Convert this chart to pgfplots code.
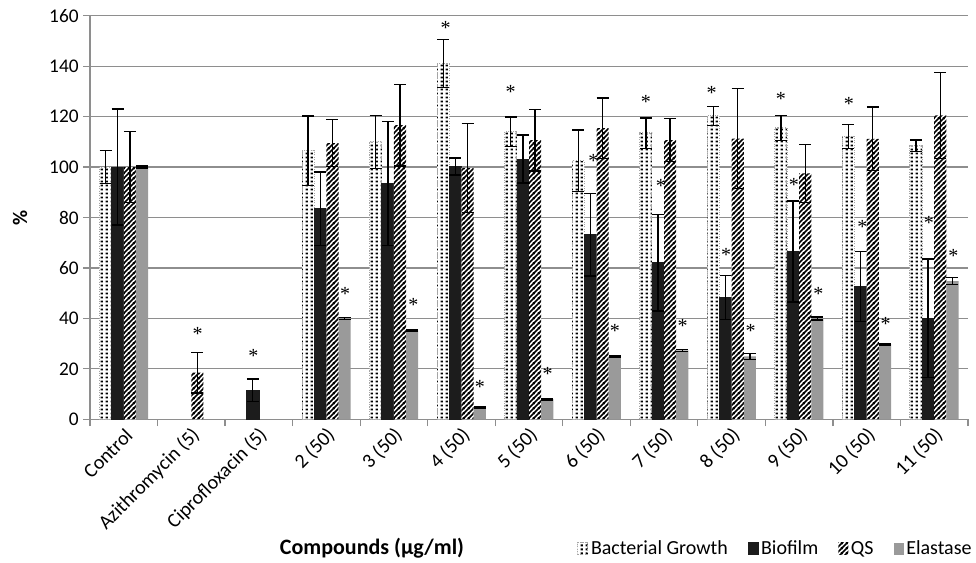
\documentclass[border=0pt]{standalone}
\usepackage{fontspec}
\setmainfont{Carlito}
\newfontfamily\starfont{Liberation Serif}
\usepackage{pgfplots}
\usepackage{pgfplotstable}
\pgfplotsset{compat=1.18}
\usetikzlibrary{patterns.meta}

\definecolor{biofilm}{HTML}{1C1C1C}
\definecolor{elastase}{HTML}{9A9A9A}
\definecolor{gridgray}{HTML}{8E8E8E}

\tikzdeclarepattern{name=bgdots, type=uncolored,
  bounding box={(0pt,0pt) and (3.4pt,3pt)},
  tile size={(3.4pt,3pt)},
  code={\fill (0.6pt,0.6pt) rectangle (2.4pt,2.3pt);}}
\tikzdeclarepattern{name=qsstripes, type=uncolored,
  bounding box={(0pt,0pt) and (3.9pt,3.9pt)},
  tile size={(3.9pt,3.9pt)},
  code={\draw[line width=1.35pt] (-0.5pt,-0.5pt) -- (4.4pt,4.4pt);
        \draw[line width=1.35pt] (-0.5pt,3.4pt) -- (0.5pt,4.4pt);
        \draw[line width=1.35pt] (3.4pt,-0.5pt) -- (4.4pt,0.5pt);}}

\pgfplotsset{
  sqlegend/.style={legend image code/.code={\path[##1] (0pt,-4.5pt) rectangle (7.5pt,4.5pt);}},
}

% x = category index; err = half-length of the error bar
\pgfplotstableread{
x  bg    bgerr bio   bioerr qs    qserr el   elerr
0  100   6.5   100   23     100   14    100  0.4
1  nan   nan   nan   nan    18.5  8     nan  nan
2  nan   nan   11.5  4.5    nan   nan   nan  nan
3  106.5 13.8  83.5  14.5   109.5 9.4   40   0.3
4  110   10.5  93.5  24.5   116.6 16.2  35.3 0.3
5  141   9.5   100.2 3.4    99.7  17.6  4.6  0.3
6  114   5.8   103.2 9.5    110.7 12.2  8    0.3
7  102.5 12.2  73.2  16.4   115.4 12    25   0.3
8  113.5 6     62.1  19.2   110.7 8.6   27.3 0.3
9  120.3 3.8   48.3  8.7    111.3 19.9  25   1.2
10 115.5 5     66.5  20     97.5  11.5  40   0.6
11 112.2 4.8   52.6  13.9   111.2 12.6  29.8 0.3
12 108.5 2.2   40    23.5   120.5 17    54.8 1.3
}\datatable

% positions of the significance asterisks
\pgfplotstableread{
x      y
1.095  33.7
1.918  25.3
3.276  49.9
4.287  45.2
4.766  155.3
5.274  13
5.729  129.8
6.277  17.9
6.952  102.5
7.273  35.2
7.732  125.9
7.954  92.6
8.275  37.1
8.705  129.5
8.917  65.2
9.282  35.1
9.731  127.2
9.923  92.8
10.283 49.9
10.738 124.9
10.935 76.3
11.281 37.7
11.922 78
12.283 64.8
}\startable

\begin{document}
\begin{tikzpicture}
\begin{axis}[
    name=ax,
    scale only axis, width=658.5pt, height=302.7pt,
    xmin=-0.5, xmax=12.5, ymin=0, ymax=160,
    axis x line*=bottom, axis y line*=left,
    axis line style={draw=gridgray, line width=0.9pt, -},
    xtick={0,...,12},
    xticklabels={Control, Azithromycin (5), Ciprofloxacin (5), 2 (50), 3 (50), 4 (50),
                 5 (50), 6 (50), 7 (50), 8 (50), 9 (50), 10 (50), 11 (50)},
    minor xtick={-0.5,0.5,...,12.5},
    major x tick style={draw=none},
    minor x tick style={draw=gridgray, line width=0.9pt},
    ytick={0,20,...,160},
    y tick style={draw=gridgray, line width=0.9pt},
    major tick length=5pt, minor tick length=5pt,
    tick align=outside,
    ymajorgrids, major grid style={draw=gridgray, line width=0.9pt},
    /pgf/number format/assume math mode=true,
    yticklabel style={font=\fontsize{14.5}{17}\selectfont},
    xticklabel style={font=\fontsize{15}{17}\selectfont, rotate=45, anchor=east, yshift=-6pt, xshift=3pt},
    xlabel={Compounds (µg/ml)},
    xlabel style={at={(axis description cs:0.3212,0)}, anchor=center, yshift=-96.5pt,
                  font=\bfseries\fontsize{16.5}{19}\selectfont},
    ylabel={\%},
    ylabel style={at={(axis description cs:-0.0797,0.5)}, anchor=center,
                  font=\bfseries\fontsize{15.5}{18}\selectfont},
    legend columns=-1,
    legend style={at={(axis description cs:0.5547,0)}, anchor=west, yshift=-97pt,
                  draw=none, font=\fontsize{15}{18}\selectfont,
                  inner sep=0pt, nodes={inner sep=2pt},
                  /tikz/every even column/.append style={column sep=13pt}},
    error bars/y dir=both, error bars/y explicit,
    error bars/error bar style={black, solid, line width=1pt},
    error bars/error mark options={black, solid, line width=1pt, mark size=4.5pt, rotate=90},
    every axis plot/.append style={ybar, bar width=0.18, bar shift=0},
]
\addplot[fill=white, draw=gray!70, densely dotted, line width=0.8pt,
    postaction={pattern=bgdots, pattern color=black}, sqlegend]
  table[x expr=\thisrow{x}-0.27, y=bg, y error=bgerr] {\datatable};
\addlegendentry{Bacterial Growth}
\addplot[fill=biofilm, draw=biofilm, sqlegend]
  table[x expr=\thisrow{x}-0.09, y=bio, y error=bioerr] {\datatable};
\addlegendentry{Biofilm}
\addplot[fill=white, draw=none,
    postaction={pattern=qsstripes, pattern color=black}, sqlegend]
  table[x expr=\thisrow{x}+0.09, y=qs, y error=qserr] {\datatable};
\addlegendentry{QS}
\addplot[fill=elastase, draw=none, sqlegend]
  table[x expr=\thisrow{x}+0.27, y=el, y error=elerr] {\datatable};
\addlegendentry{Elastase}
% significance asterisks
\addplot[sharp plot, draw=none, mark=none, forget plot, error bars/y dir=none,
    nodes near coords={*},
    every node near coord/.style={anchor=center, inner sep=0pt, font=\starfont\fontsize{15}{15}\selectfont}]
  table[x=x, y=y] {\startable};
\end{axis}
\path ([xshift=-67.5pt,yshift=314.5pt]ax.south west) rectangle ([xshift=664.5pt,yshift=-107pt]ax.south west);
\end{tikzpicture}
\end{document}
